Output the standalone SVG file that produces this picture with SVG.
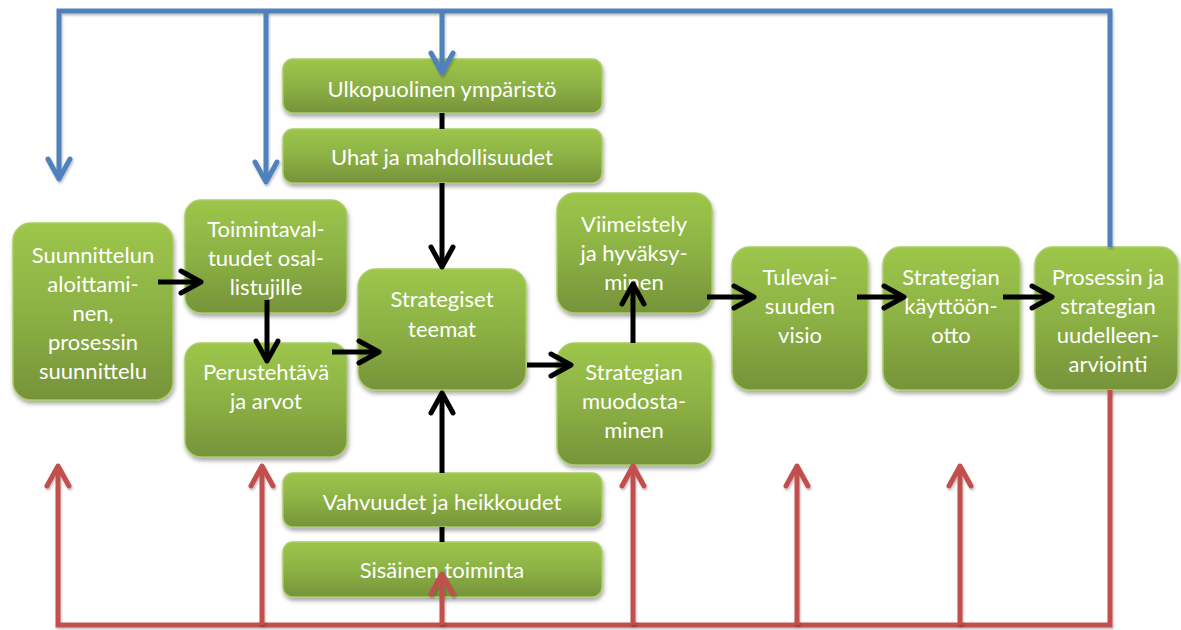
<svg xmlns="http://www.w3.org/2000/svg" width="1181" height="630" viewBox="0 0 1181 630">
  <defs>
    <linearGradient id="greenFill" x1="0" y1="0" x2="0" y2="1">
      <stop offset="0" stop-color="#9dc64b"/>
      <stop offset="0.5" stop-color="#8cb144"/>
      <stop offset="1" stop-color="#76933a"/>
    </linearGradient>
    <filter id="boxShadow" x="-10%" y="-10%" width="130%" height="140%">
      <feDropShadow dx="1" dy="3" stdDeviation="2" flood-color="#000" flood-opacity="0.35"/>
    </filter>
    <!-- user-space region so straight (zero-width) lines still get the shadow -->
    <filter id="lineShadow" filterUnits="userSpaceOnUse" x="0" y="0" width="1181" height="630">
      <feDropShadow dx="1" dy="2" stdDeviation="1.2" flood-color="#000" flood-opacity="0.25"/>
    </filter>
    <marker id="headBlack" viewBox="-26 -16 30 32" refX="0" refY="0" markerWidth="30" markerHeight="32" markerUnits="userSpaceOnUse" orient="auto" overflow="visible">
      <path d="M-20,-11 L0,0 L-20,11" fill="none" stroke="#000" stroke-width="5" stroke-linecap="round" stroke-linejoin="round"/>
    </marker>
    <marker id="headBlue" viewBox="-26 -16 30 32" refX="0" refY="0" markerWidth="30" markerHeight="32" markerUnits="userSpaceOnUse" orient="auto" overflow="visible">
      <path d="M-20,-11 L0,0 L-20,11" fill="none" stroke="#4f81bd" stroke-width="5" stroke-linecap="round" stroke-linejoin="round"/>
    </marker>
    <marker id="headRed" viewBox="-26 -16 30 32" refX="0" refY="0" markerWidth="30" markerHeight="32" markerUnits="userSpaceOnUse" orient="auto" overflow="visible">
      <path d="M-20,-11 L0,0 L-20,11" fill="none" stroke="#c0504d" stroke-width="5" stroke-linecap="round" stroke-linejoin="round"/>
    </marker>
  </defs>
  <style>
    .box { fill: url(#greenFill); stroke: #a9cc66; stroke-width: 1.5; filter: url(#boxShadow); }
    .lbl { font-family: Lato, "Open Sans", "Liberation Sans", sans-serif; font-size: 22px; fill: #ffffff; text-anchor: middle; }
    .blk { fill: none; stroke: #000; stroke-width: 5; stroke-linecap: butt; }
    .blu { fill: none; stroke: #4f81bd; stroke-width: 5; stroke-linejoin: miter; filter: url(#lineShadow); }
    .red { fill: none; stroke: #c0504d; stroke-width: 5; stroke-linejoin: miter; filter: url(#lineShadow); }
  </style>

  <rect width="1181" height="630" fill="#ffffff"/>

  <!-- process steps -->
  <g id="nodes">
    <g id="n-suunnittelun">
      <rect class="box" x="13" y="223" width="160" height="177" rx="18"/>
      <text class="lbl" x="93" y="263">Suunnittelun</text>
      <text class="lbl" x="93" y="292">aloittami-</text>
      <text class="lbl" x="93" y="321">nen,</text>
      <text class="lbl" x="93" y="350">prosessin</text>
      <text class="lbl" x="93" y="379">suunnittelu</text>
    </g>
    <g id="n-toimintavaltuudet">
      <rect class="box" x="185" y="200" width="162" height="113" rx="16"/>
      <text class="lbl" x="266" y="237">Toimintaval-</text>
      <text class="lbl" x="266" y="266">tuudet osal-</text>
      <text class="lbl" x="266" y="295">listujille</text>
    </g>
    <g id="n-perustehtava">
      <rect class="box" x="185" y="343" width="162" height="114" rx="16"/>
      <text class="lbl" x="266" y="380">Perustehtävä</text>
      <text class="lbl" x="266" y="409">ja arvot</text>
    </g>
    <g id="n-ulkopuolinen">
      <rect class="box" x="283" y="59" width="319" height="54" rx="10"/>
      <text class="lbl" x="442" y="97">Ulkopuolinen ympäristö</text>
    </g>
    <g id="n-uhat">
      <rect class="box" x="283" y="129" width="319" height="54" rx="10"/>
      <text class="lbl" x="442" y="165">Uhat ja mahdollisuudet</text>
    </g>
    <g id="n-strategiset">
      <rect class="box" x="358" y="269" width="168" height="121" rx="18"/>
      <text class="lbl" x="442" y="307">Strategiset</text>
      <text class="lbl" x="442" y="337">teemat</text>
    </g>
    <g id="n-vahvuudet">
      <rect class="box" x="283" y="473" width="319" height="54" rx="10"/>
      <text class="lbl" x="442" y="510">Vahvuudet ja heikkoudet</text>
    </g>
    <g id="n-sisainen">
      <rect class="box" x="283" y="542" width="319" height="55" rx="10"/>
      <text class="lbl" x="442" y="578">Sisäinen toiminta</text>
    </g>
    <g id="n-viimeistely">
      <rect class="box" x="557" y="193" width="155" height="120" rx="18"/>
      <text class="lbl" x="634" y="232">Viimeistely</text>
      <text class="lbl" x="634" y="261">ja hyväksy-</text>
      <text class="lbl" x="634" y="290">minen</text>
    </g>
    <g id="n-muodostaminen">
      <rect class="box" x="557" y="343" width="155" height="122" rx="18"/>
      <text class="lbl" x="634" y="380">Strategian</text>
      <text class="lbl" x="634" y="409">muodosta-</text>
      <text class="lbl" x="634" y="438">minen</text>
    </g>
    <g id="n-visio">
      <rect class="box" x="732" y="247" width="136" height="143" rx="18"/>
      <text class="lbl" x="800" y="285">Tulevai-</text>
      <text class="lbl" x="800" y="314">suuden</text>
      <text class="lbl" x="800" y="343">visio</text>
    </g>
    <g id="n-kayttoonotto">
      <rect class="box" x="883" y="247" width="137" height="143" rx="18"/>
      <text class="lbl" x="951" y="285">Strategian</text>
      <text class="lbl" x="951" y="314">käyttöön-</text>
      <text class="lbl" x="951" y="343">otto</text>
    </g>
    <g id="n-arviointi">
      <rect class="box" x="1035" y="247" width="143" height="143" rx="18"/>
      <text class="lbl" x="1108" y="285">Prosessin ja</text>
      <text class="lbl" x="1108" y="314">strategian</text>
      <text class="lbl" x="1108" y="343">uudelleen-</text>
      <text class="lbl" x="1108" y="372">arviointi</text>
    </g>
  </g>

  <!-- flow arrows and feedback loops -->
  <g id="connectors">
    <!-- main flow -->
    <path class="blk" d="M158,282 L201,282" marker-end="url(#headBlack)"/>
    <path class="blk" d="M267,300 L267,361" marker-end="url(#headBlack)"/>
    <path class="blk" d="M332,352 L379,352" marker-end="url(#headBlack)"/>
    <path class="blk" d="M442,113 L442,129"/>
    <path class="blk" d="M442,183 L442,267" marker-end="url(#headBlack)"/>
    <path class="blk" d="M442,542 L442,527"/>
    <path class="blk" d="M442,473 L442,393" marker-end="url(#headBlack)"/>
    <path class="blk" d="M527,365 L571,365" marker-end="url(#headBlack)"/>
    <path class="blk" d="M633,343 L633,284" marker-end="url(#headBlack)"/>
    <path class="blk" d="M707,297 L754,297" marker-end="url(#headBlack)"/>
    <path class="blk" d="M857,297 L904,297" marker-end="url(#headBlack)"/>
    <path class="blk" d="M1003,297 L1052,297" marker-end="url(#headBlack)"/>

    <!-- feedback from evaluation: top loop -->
    <path class="blu" d="M1110,247 L1110,11 L59,11 L59,179" marker-end="url(#headBlue)"/>
    <path class="blu" d="M266,11 L266,182" marker-end="url(#headBlue)"/>
    <path class="blu" d="M442,11 L442,73" marker-end="url(#headBlue)"/>

    <!-- feedback from evaluation: bottom loop -->
    <path class="red" d="M1110,390 L1110,625 L58,625 L58,466" marker-end="url(#headRed)"/>
    <path class="red" d="M262,625 L262,466" marker-end="url(#headRed)"/>
    <path class="red" d="M442,625 L442,574" marker-end="url(#headRed)"/>
    <path class="red" d="M633,625 L633,466" marker-end="url(#headRed)"/>
    <path class="red" d="M797,625 L797,466" marker-end="url(#headRed)"/>
    <path class="red" d="M960,625 L960,466" marker-end="url(#headRed)"/>
  </g>
</svg>
